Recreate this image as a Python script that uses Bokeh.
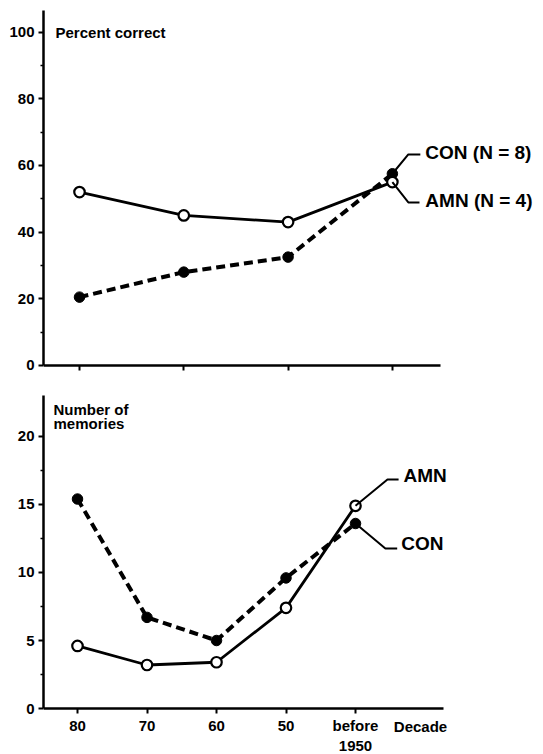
from bokeh.plotting import figure
from bokeh.layouts import column
from bokeh.models import FixedTicker, Label, Range1d
from bokeh.embed import file_html
from bokeh.resources import INLINE

# ---- data ----
top_positions = [1, 2, 3, 4]
top_amn = [52, 45, 43, 55]
top_con = [20.5, 28, 32.5, 57.5]
top_yticks = [0, 20, 40, 60, 80, 100]
top_minor = [10, 30, 50, 70, 90]

decades = ["80", "70", "60", "50", "before\n1950"]
bottom_positions = [1, 2, 3, 4, 5]
bottom_amn = [4.6, 3.2, 3.4, 7.4, 14.9]
bottom_con = [15.4, 6.7, 5.0, 9.6, 13.6]
bottom_yticks = [0, 5, 10, 15, 20]
bottom_minor = [2.5, 7.5, 12.5, 17.5]

FONT = "Liberation Sans"
TICK_SIZE = "15px"
SERIES_SIZE = "19px"


def style(p, yticks, yminor, ybounds, xticks, xlabels, xbounds):
    p.xgrid.visible = False
    p.ygrid.visible = False
    p.outline_line_color = None
    p.background_fill_color = "white"
    p.border_fill_color = "white"
    for ax in (p.xaxis[0], p.yaxis[0]):
        ax.axis_line_width = 2.5
        ax.axis_line_color = "black"
        ax.major_tick_in = 0
        ax.major_tick_out = 5
        ax.major_tick_line_width = 2
        ax.minor_tick_in = 0
        ax.minor_tick_out = 3
        ax.minor_tick_line_width = 1.5
        ax.major_label_text_font = FONT
        ax.major_label_text_font_style = "bold"
        ax.major_label_text_font_size = TICK_SIZE
        ax.major_label_text_color = "black"
    p.yaxis[0].ticker = FixedTicker(ticks=yticks, minor_ticks=yminor)
    p.yaxis[0].major_label_standoff = 4
    p.yaxis[0].bounds = ybounds
    p.xaxis[0].ticker = FixedTicker(ticks=xticks)
    p.xaxis[0].major_label_overrides = {x: l for x, l in zip(xticks, xlabels)}
    p.xaxis[0].major_label_standoff = 3
    p.xaxis[0].fixed_location = 0
    p.xaxis[0].bounds = xbounds


def draw(p, xs, amn, con):
    p.line(xs, con, line_color="black", line_width=4, line_dash="9 5")
    p.line(xs, amn, line_color="black", line_width=2.8)
    p.scatter(xs, con, marker="circle", size=10.5, fill_color="black", line_color="black")
    p.scatter(xs, amn, marker="circle", size=10.5, fill_color="white",
              line_color="black", line_width=2.2)


def text(p, x, y, s, size=SERIES_SIZE, align="left", baseline="middle"):
    p.add_layout(Label(x=x, y=y, text=s, text_font=FONT, text_font_style="bold",
                       text_font_size=size, text_color="black",
                       text_align=align, text_baseline=baseline))


# ---- top panel ----
top_x0, top_x1 = 0.6548, 5.449
p1 = figure(width=543, height=380, output_backend="svg", toolbar_location=None,
            x_range=Range1d(top_x0, top_x1), y_range=Range1d(-3.9, 106.45),
            min_border_left=43, min_border_right=0, min_border_top=10,
            min_border_bottom=2)
style(p1, top_yticks, top_minor, (0, 106.45), top_positions,
      ["" for _ in top_positions], (top_x0, 4.461))
draw(p1, top_positions, top_amn, top_con)

xl, yl = top_positions[-1], top_con[-1]
p1.line([xl, xl + 0.153, xl + 0.268], [yl, 63.3, 63.3], line_color="black", line_width=2)
xa, ya = top_positions[-1], top_amn[-1]
p1.line([xa, xa + 0.153, xa + 0.26], [ya, 48.9, 48.9], line_color="black", line_width=2)
text(p1, xl + 0.316, 63.9, "CON (N = 8)")
text(p1, xa + 0.316, 49.5, "AMN (N = 4)")
text(p1, 0.77, 102.5, "Percent correct", size="15px", baseline="top")

# ---- bottom panel ----
bot_x0, bot_x1 = 0.5108, 7.705
p2 = figure(width=543, height=374, output_backend="svg", toolbar_location=None,
            x_range=Range1d(bot_x0, bot_x1), y_range=Range1d(-3.38, 23.01),
            min_border_left=43, min_border_right=0, min_border_top=15,
            min_border_bottom=0)
style(p2, bottom_yticks, bottom_minor, (0, 23.01), bottom_positions, decades,
      (bot_x0, 6.266))
draw(p2, bottom_positions, bottom_amn, bottom_con)

xa, ya = bottom_positions[-1], bottom_amn[-1]
p2.line([xa, xa + 0.46, xa + 0.62], [ya, 16.84, 16.84], line_color="black", line_width=2)
xc, yc = bottom_positions[-1], bottom_con[-1]
p2.line([xc, xc + 0.43, xc + 0.60], [yc, 11.76, 11.76], line_color="black", line_width=2)
text(p2, xa + 0.69, 17.1, "AMN")
text(p2, xc + 0.66, 12.1, "CON")
text(p2, 0.655, 22.6, "Number of", size="15px", baseline="top")
text(p2, 0.655, 21.6, "memories", size="15px", baseline="top")
text(p2, 5.935, -1.32, "Decade", size=TICK_SIZE, align="center")

layout = column(p1, p2, spacing=0)
open("out.html", "w").write(file_html(layout, INLINE))
